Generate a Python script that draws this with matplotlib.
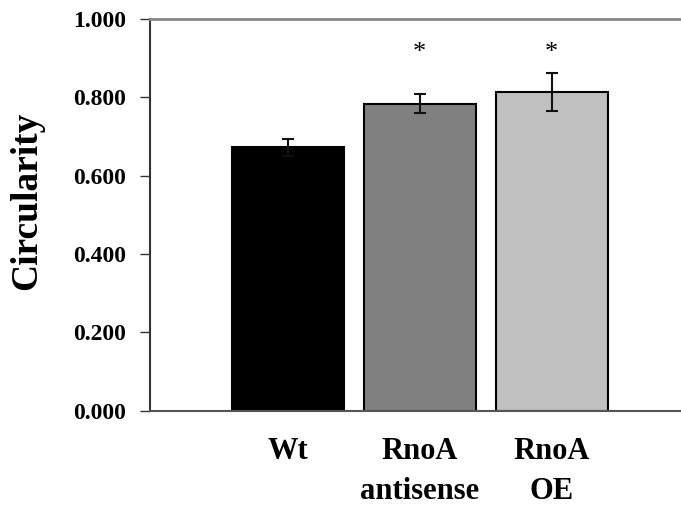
import matplotlib.pyplot as plt

groups = ['Wt', 'RnoA\nantisense', 'RnoA\nOE']
means = [0.672, 0.784, 0.813]
errs = [0.021, 0.025, 0.048]
colors = ['#000000', '#808080', '#c0c0c0']
stars = ['', '*', '*']
star_y = 0.912

plt.rcParams['font.family'] = ['Liberation Serif', 'DejaVu Serif']
plt.rcParams['font.weight'] = 'bold'

fig = plt.figure(figsize=(6.81, 5.08), dpi=100)
ax = fig.add_axes([0.2203, 0.1919, 0.7797, 0.7707])

x = range(len(groups))
ax.bar(x, means, width=0.85, color=colors, edgecolor='black', linewidth=1.5,
       yerr=errs, error_kw=dict(ecolor='#111111', elinewidth=1.5, capsize=4, capthick=1.5))
for i, s in enumerate(stars):
    if s:
        ax.text(i, star_y, s, ha='center', va='center', fontsize=19, fontweight='normal')

ax.set_xlim(-1.045, 2.98)
ax.set_ylim(0, 1.0)
ax.set_yticks([0, 0.2, 0.4, 0.6, 0.8, 1.0])
ax.set_yticklabels(['%.3f' % v for v in [0, 0.2, 0.4, 0.6, 0.8, 1.0]], fontsize=17, fontweight='bold')
ax.set_xticks(list(x))
ax.set_xticklabels(groups, fontsize=22, fontweight='bold', linespacing=1.5)
ax.tick_params(axis='x', length=0, pad=19)
ax.tick_params(axis='y', length=7, width=1, pad=10, color='#333333', direction='out')

ax.spines['right'].set_visible(False)
ax.spines['top'].set_color('#888888')
ax.spines['top'].set_linewidth(2)
ax.spines['bottom'].set_color('#555555')
ax.spines['bottom'].set_linewidth(1.5)
ax.spines['left'].set_color('#333333')
ax.spines['left'].set_linewidth(1.5)

ax.set_ylabel('Circularity', fontsize=27, fontweight='bold')
ax.yaxis.set_label_coords(-0.2, 0.535)

fig.savefig('out.png', dpi=100)
